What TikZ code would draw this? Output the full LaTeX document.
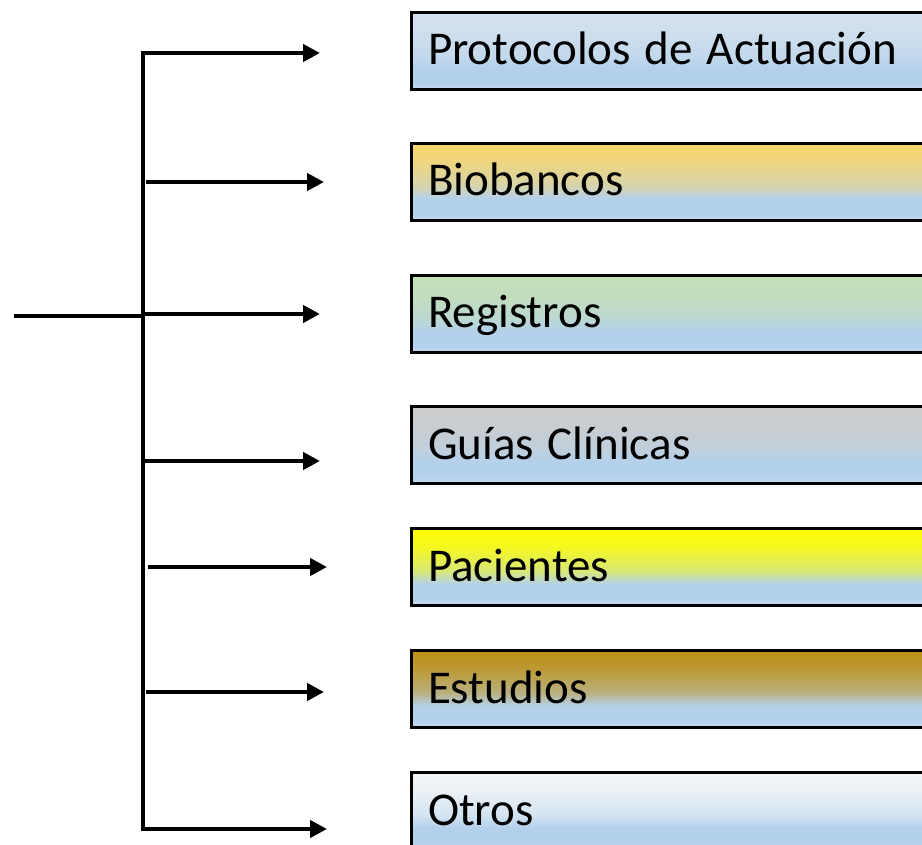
\documentclass[tikz,border=0pt]{standalone}
\usepackage{fontspec}
\setmainfont{Carlito}
\usetikzlibrary{arrows.meta,positioning}

\definecolor{boxblue}{HTML}{B4D1EB}
\definecolor{boxbluelow}{HTML}{C9DDF1}
\definecolor{topprot}{HTML}{D5E1EE}
\definecolor{topbio}{HTML}{F8D66E}
\definecolor{topreg}{HTML}{C5DFB5}
\definecolor{topguia}{HTML}{CCCCCC}
\definecolor{toppac}{HTML}{FFFF00}
\definecolor{topest}{HTML}{BE9016}
\definecolor{topotro}{HTML}{F4F6F7}

% vertical shading: colour on top, blue band below
\newcommand\mkboxshade[2]{%
  \pgfdeclareverticalshading{#1}{100bp}{color(0bp)=(boxbluelow); color(25bp)=(boxbluelow);
    color(29bp)=(boxblue); color(39bp)=(boxblue); color(47.5bp)=(#2!50!boxblue);
    color(62.5bp)=(#2!85!boxblue); color(75bp)=(#2); color(100bp)=(#2)}}
\mkboxshade{shprot}{topprot}
\mkboxshade{shbio}{topbio}
\mkboxshade{shreg}{topreg}
\mkboxshade{shguia}{topguia}
\mkboxshade{shpac}{toppac}
\mkboxshade{shest}{topest}
\mkboxshade{shotro}{topotro}

\newcommand\catfont{\fontsize{47}{56}\selectfont\spaceskip=14pt\relax}

\tikzset{
  catbox/.style={draw, line width=3pt, rectangle, anchor=west,
    inner xsep=17pt, inner ysep=0pt, text height=52.5pt, text depth=24.5pt,
    text width=560pt, align=flush left, font=\catfont, shade, shading=#1},
  link/.style={line width=4.5pt},
  tip/.style={-{Triangle[length=17pt,width=17pt]}},
}

\begin{document}
\begin{tikzpicture}[x=1pt,y=-1pt]
  \useasboundingbox (0,0) rectangle (922,845);
  \clip (0,0) rectangle (922,845);
  % categories
  \path (409.5,51) node[catbox=shprot] (prot) {Protocolos de Actuación};
  \path (409.5,182) node[catbox=shbio] (bio) {Biobancos};
  \path (409.5,314) node[catbox=shreg] (reg) {Registros};
  \path (409.5,445) node[catbox=shguia] (guia) {Guías Clínicas};
  \path (409.5,567) node[catbox=shpac] (pac) {Pacientes};
  \path (409.5,689) node[catbox=shest] (est) {Estudios};
  \path (409.5,811) node[catbox=shotro] (otro) {Otros};
  % arrow tips and the trunk
  \coordinate (tprot) at (320,53);
  \coordinate (tbio) at (324,182);
  \coordinate (treg) at (320,314);
  \coordinate (tguia) at (320,461);
  \coordinate (tpac) at (327,567);
  \coordinate (test) at (324,692);
  \coordinate (totro) at (327,829);
  \coordinate (in) at (14,316);
  \coordinate (hub) at (143,316);
  \draw[link, {Triangle[length=17pt,width=17pt]}-{Triangle[length=17pt,width=17pt]}]
    (totro) -- (hub |- totro) -- (hub |- tprot) -- (tprot);
  \draw[link] (in) -- (hub);
  \foreach \t/\s in {bio/146,reg/143,guia/143,pac/148,est/146}
    \draw[link, tip] (\s,0 |- t\t) -- (t\t);
\end{tikzpicture}
\end{document}
